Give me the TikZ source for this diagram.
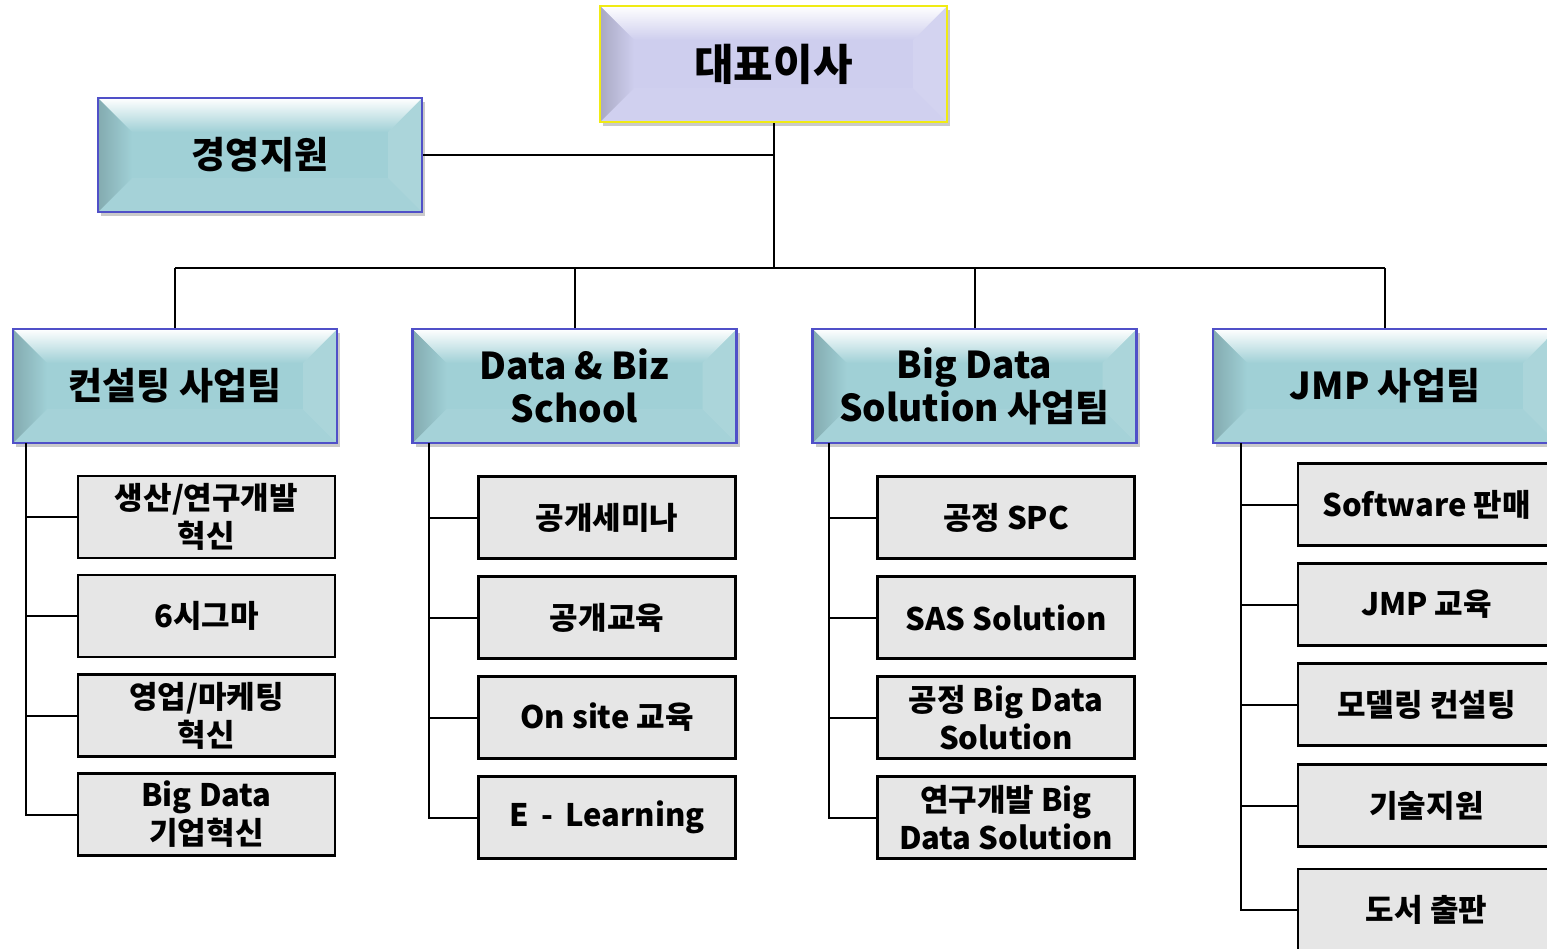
\documentclass[tikz,border=0pt]{standalone}
\usepackage{fontspec}
\setmainfont{Noto Sans CJK KR}
\usetikzlibrary{calc,shadows}

\definecolor{tealfill}{RGB}{160,208,214}
\definecolor{lavfill}{RGB}{206,206,238}
\definecolor{blueline}{RGB}{80,80,200}
\definecolor{yelline}{RGB}{240,235,20}
\definecolor{greyfill}{RGB}{230,230,230}

\tikzset{every picture/.style={line width=2pt}}
\tikzset{
  bevelbox/.style 2 args={draw=#2, fill=#1, line width=2.5pt, inner sep=0pt, align=center,
    font=\bfseries\fontsize{37}{43}\selectfont,
    drop shadow={shadow xshift=3pt, shadow yshift=-4pt, opacity=.35, fill=black!60},
    path picture={
      \coordinate (nw) at (path picture bounding box.north west);
      \coordinate (ne) at (path picture bounding box.north east);
      \coordinate (sw) at (path picture bounding box.south west);
      \coordinate (se) at (path picture bounding box.south east);
      % top bevel
      \shade[top color=white, bottom color=#1] (nw) -- (ne) -- ($(ne)+(-34pt,-34pt)$) -- ($(nw)+(34pt,-34pt)$) -- cycle;
      % left bevel
      \shade[left color=black!18!#1, right color=#1] (nw) -- ($(nw)+(34pt,-34pt)$) -- ($(sw)+(34pt,34pt)$) -- (sw) -- cycle;
      % right bevel
      \fill[white, opacity=.12] (ne) -- ($(ne)+(-34pt,-34pt)$) -- ($(se)+(-34pt,34pt)$) -- (se) -- cycle;
      % bottom bevel
      \fill[white, opacity=.06] (sw) -- ($(sw)+(34pt,34pt)$) -- ($(se)+(-34pt,34pt)$) -- (se) -- cycle;
    }},
  teambox/.style={bevelbox={tealfill}{blueline}, minimum width=324pt, minimum height=114pt},
  subbox/.style={draw=black, fill=greyfill, line width=2.2pt, inner sep=0pt, align=center,
    minimum width=257pt, minimum height=82pt, font=\bfseries\fontsize{31}{38}\selectfont},
  link/.style={draw=black, line width=2pt}
}

\begin{document}
\begin{tikzpicture}[x=1pt,y=-1pt]
  \useasboundingbox (0,0) rectangle (1547,948);
  \clip (0,0) rectangle (1547,948);

  % top boxes
  \node[bevelbox={lavfill}{yelline}, minimum width=347pt, minimum height=116pt,
        font=\bfseries\fontsize{43}{50}\selectfont] (ceo) at (773.5,64) {대표이사};
  \node[bevelbox={tealfill}{blueline}, minimum width=324pt, minimum height=114pt] (support) at (260,155) {경영지원};

  % team boxes
  \node[teambox] (team1) at (175,386) {컨설팅 사업팀};
  \node[teambox] (team2) at (574.5,386) {Data \& Biz\\School};
  \node[teambox] (team3) at (974.5,386) {Big Data\\Solution 사업팀};
  \node[teambox, minimum width=344pt] (team4) at (1385,386) {JMP 사업팀};

  % consulting
  \node[subbox] (s1a) at (206.5,517) {생산/연구개발\\혁신};
  \node[subbox] (s1b) at (206.5,616) {6시그마};
  \node[subbox] (s1c) at (206.5,715.5) {영업/마케팅\\혁신};
  \node[subbox] (s1d) at (206.5,814.5) {Big Data\\기업혁신};

  % data & biz school
  \node[subbox] (s2a) at (607,517.5) {공개세미나};
  \node[subbox] (s2b) at (607,617.5) {공개교육};
  \node[subbox] (s2c) at (607,717.5) {On site 교육};
  \node[subbox] (s2d) at (607,817.5) {E \,-\, Learning};

  % big data solution
  \node[subbox] (s3a) at (1006,517.5) {공정 SPC};
  \node[subbox] (s3b) at (1006,617.5) {SAS Solution};
  \node[subbox] (s3c) at (1006,717.5) {공정 Big Data\\Solution};
  \node[subbox] (s3d) at (1006,817.5) {연구개발 Big\\Data Solution};

  % jmp
  \node[subbox] (s4a) at (1426.5,504.5) {Software 판매};
  \node[subbox] (s4b) at (1426.5,604.5) {JMP 교육};
  \node[subbox] (s4c) at (1426.5,704.5) {모델링 컨설팅};
  \node[subbox] (s4d) at (1426.5,805.5) {기술지원};
  \node[subbox] (s4e) at (1426.5,910) {도서 출판};

  % connectors
  \coordinate (busL) at (175,268);
  \coordinate (busR) at (1385,268);
  \draw[link] (busL) -- (busR);
  \draw[link] (ceo.south) -- (ceo.south |- busL);
  \draw[link] (support.east) -- (support.east -| ceo.south);
  \foreach \t in {team1,team2,team3,team4}
    \draw[link] (\t.north) -- (\t.north |- busL);

  \coordinate (sp1) at (26,443);
  \coordinate (sp2) at (429,443);
  \coordinate (sp3) at (829,443);
  \coordinate (sp4) at (1241,443);
  \draw[link] (sp1) |- (s1d.west);
  \draw[link] (sp2) |- (s2d.west);
  \draw[link] (sp3) |- (s3d.west);
  \draw[link] (sp4) |- (s4e.west);
  \foreach \s in {s1a,s1b,s1c} \draw[link] (sp1 |- \s.west) -- (\s.west);
  \foreach \s in {s2a,s2b,s2c} \draw[link] (sp2 |- \s.west) -- (\s.west);
  \foreach \s in {s3a,s3b,s3c} \draw[link] (sp3 |- \s.west) -- (\s.west);
  \foreach \s in {s4a,s4b,s4c,s4d} \draw[link] (sp4 |- \s.west) -- (\s.west);
\end{tikzpicture}
\end{document}
